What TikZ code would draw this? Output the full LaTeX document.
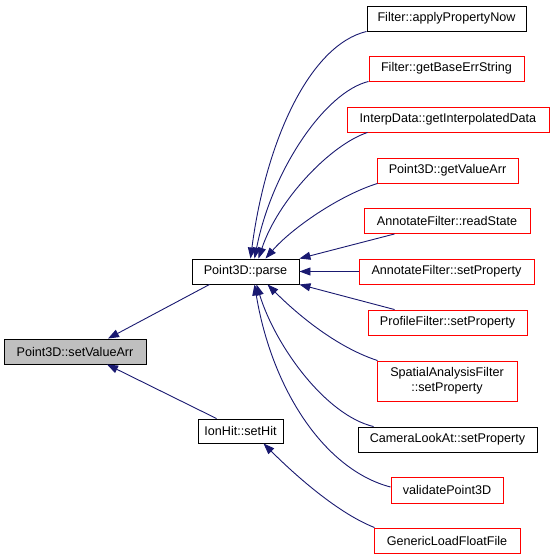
\documentclass[tikz,border=0pt]{standalone}
\usepackage{fontspec}
\setmainfont{Liberation Sans}
\usetikzlibrary{arrows.meta}
\definecolor{edgeblue}{HTML}{191970}
\definecolor{boxred}{HTML}{FF0000}
\definecolor{boxgray}{HTML}{BFBFBF}
\tikzset{
  box/.style={draw=black, minimum height=25pt, inner sep=0pt, line width=0.9pt,
    font=\fontsize{12.6}{15}\selectfont, align=center},
  redbox/.style={box, draw=boxred},
  edge/.style={draw=edgeblue, line width=0.9pt, -{Triangle[length=11pt,width=8pt]}}
}
\begin{document}
\begin{tikzpicture}[x=1pt,y=-1pt]
\useasboundingbox (0,0) rectangle (553,560);
% left nodes
\node[box, fill=boxgray, minimum width=142pt] (sva) at (75,351.5) {Point3D::setValueArr};
\node[box, minimum width=107pt] (parse) at (245.5,271.5) {Point3D::parse};
\node[box, minimum width=85pt, minimum height=24pt] (sethit) at (240.5,431) {IonHit::setHit};
% right column
\node[box, minimum width=159pt] (apn) at (446.5,18.5) {Filter::applyPropertyNow};
\node[redbox, minimum width=155pt] (gbes) at (446.5,68.5) {Filter::getBaseErrString};
\node[redbox, minimum width=202pt] (interp) at (448,119.5) {InterpData::getInterpolatedData};
\node[redbox, minimum width=141pt] (gva) at (447.5,170.5) {Point3D::getValueArr};
\node[redbox, minimum width=166pt] (rs) at (447,221) {AnnotateFilter::readState};
\node[redbox, minimum width=175pt] (asp) at (446.5,271.5) {AnnotateFilter::setProperty};
\node[redbox, minimum width=159pt] (pfsp) at (447.5,322.5) {ProfileFilter::setProperty};
\node[redbox, minimum width=140pt, minimum height=40pt] (sasp) at (447,381) {SpatialAnalysisFilter\\::setProperty};
\node[box, minimum width=179pt] (clsp) at (447.5,439.5) {CameraLookAt::setProperty};
\node[redbox, minimum width=112pt, minimum height=26pt] (vp) at (447,490) {validatePoint3D};
\node[redbox, minimum width=146pt] (glff) at (447,540.5) {GenericLoadFloatFile};
% edges into setValueArr
\draw[edge] ([xshift=18pt]parse.south west) -- ([xshift=33pt]sva.north);
\draw[edge] ([xshift=19pt]sethit.north west) -- ([xshift=32pt]sva.south);
% edges into parse (top)
\draw[edge] (apn.south west) .. controls (310,45) and (266,140) .. ([xshift=5pt]parse.north);
\draw[edge] (gbes.south west) .. controls (325,92) and (272,170) .. ([xshift=9pt]parse.north);
\draw[edge] ([xshift=21pt]interp.south west) .. controls (330,145) and (278,200) .. ([xshift=13pt]parse.north);
\draw[edge] ([xshift=1pt]gva.south west) .. controls (340,195) and (292,228) .. ([xshift=20pt]parse.north);
\draw[edge] ([xshift=31pt]rs.south west) -- (parse.north east);
\draw[edge] (asp.west) -- (parse.east);
% edges into parse (bottom)
\draw[edge] ([xshift=27pt]pfsp.north west) -- (parse.south east);
\draw[edge] ([xshift=1pt]sasp.north west) .. controls (330,345) and (288,305) .. ([xshift=22pt]parse.south);
\draw[edge] ([xshift=16pt]clsp.north west) .. controls (325,415) and (275,345) .. ([xshift=11pt]parse.south);
\draw[edge] ([yshift=3pt]vp.west) .. controls (325,470) and (272,390) .. ([xshift=9pt]parse.south);
% edge into setHit
\draw[edge] ([xshift=1pt]glff.north west) .. controls (335,512) and (290,470) .. ([xshift=23pt]sethit.south);
\end{tikzpicture}
\end{document}
